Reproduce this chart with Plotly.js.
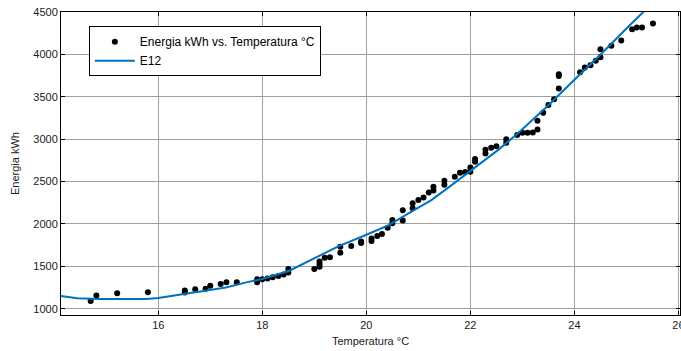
<!DOCTYPE html>
<html>
<head>
<meta charset="utf-8">
<script src="https://cdn.plot.ly/plotly-3.0.1.min.js"></script>
<style>
  html, body { margin: 0; padding: 0; background: #fff; }
  #chart { width: 681px; height: 351px; }
</style>
</head>
<body>
<div id="chart"></div>
<script>
// Measured daily energy use against mean temperature
const temperatura = [
  14.70, 14.81, 15.21, 15.80, 16.51, 16.51, 16.71, 16.91, 17.00, 17.20,
  17.31, 17.51, 17.90, 17.90, 18.00, 18.10, 18.20, 18.31, 18.41, 18.50,
  18.50, 19.00, 19.10, 19.10, 19.10, 19.20, 19.30, 19.50, 19.50, 19.71,
  19.90, 19.90, 20.10, 20.10, 20.21, 20.30, 20.41, 20.50, 20.50, 20.70,
  20.70, 20.89, 20.89, 21.00, 21.10, 21.20, 21.29, 21.29, 21.50, 21.50,
  21.70, 21.80, 21.90, 22.00, 22.00, 22.09, 22.09, 22.29, 22.29, 22.40,
  22.50, 22.69, 22.69, 22.90, 23.00, 23.10, 23.20, 23.29, 23.29, 23.40,
  23.50, 23.61, 23.70, 23.70, 23.70, 24.11, 24.20, 24.31, 24.41, 24.50,
  24.50, 24.71, 24.90, 25.11, 25.20, 25.30, 25.51
];
const energia = [
  1091, 1155, 1182, 1193, 1214, 1190, 1229, 1236, 1270, 1291,
  1313, 1313, 1311, 1347, 1347, 1358, 1372, 1386, 1403, 1426,
  1470, 1470, 1495, 1525, 1558, 1601, 1606, 1660, 1731, 1741,
  1775, 1792, 1800, 1828, 1859, 1881, 1955, 2007, 2046, 2042,
  2163, 2184, 2245, 2281, 2313, 2370, 2395, 2440, 2462, 2510,
  2556, 2603, 2613, 2615, 2665, 2735, 2767, 2832, 2875, 2900,
  2916, 2957, 3000, 3048, 3075, 3075, 3080, 3115, 3217, 3311,
  3402, 3472, 3598, 3744, 3767, 3788, 3846, 3873, 3924, 3965,
  4062, 4101, 4164, 4298, 4318, 4318, 4365
];

// Fitted curve E12
const curvaX = [
  14.13, 14.44, 14.89, 15.40, 15.78, 16.00, 16.16, 16.51, 16.92, 17.30,
  17.69, 18.00, 18.52, 18.90, 19.47, 19.98, 20.43, 20.81, 21.25, 21.60,
  22.02, 22.53, 22.91, 23.50, 24.00, 24.50, 25.00, 25.40
];
const curvaY = [
  1150, 1123, 1114, 1112, 1114, 1126, 1141, 1170, 1209, 1250,
  1311, 1350, 1448, 1566, 1739, 1867, 1987, 2125, 2282, 2440,
  2635, 2871, 3068, 3400, 3700, 3995, 4305, 4545
];

const xTicks = [16, 18, 20, 22, 24, 26];
const yTicks = [1000, 1500, 2000, 2500, 3000, 3500, 4000, 4500];

const fontFamily = 'Arial, "Liberation Sans", Helvetica, sans-serif';

const traces = [
  {
    x: temperatura, y: energia,
    type: 'scatter', mode: 'markers',
    name: 'Energia kWh vs. Temperatura °C',
    marker: { color: '#000000', size: 6 }
  },
  {
    x: curvaX, y: curvaY,
    type: 'scatter', mode: 'lines',
    name: 'E12',
    line: { color: '#0072BD', width: 2 }
  }
];

const axisCommon = {
  showline: true, linecolor: '#000000', linewidth: 1, mirror: 'ticks',
  ticks: 'inside', ticklen: 4, tickcolor: '#000000',
  showgrid: true, gridcolor: '#a0a0a0', gridwidth: 1,
  zeroline: false,
  ticklabeloverflow: 'allow',
  tickfont: { family: fontFamily, size: 11, color: '#1a1a1a' }
};

const layout = {
  width: 681, height: 351,
  margin: { l: 61, r: 1, t: 12, b: 36 },
  paper_bgcolor: '#ffffff', plot_bgcolor: '#ffffff',
  showlegend: true,
  font: { family: fontFamily, size: 11, color: '#1a1a1a' },
  xaxis: Object.assign({}, axisCommon, {
    range: [14.13, 26.03],
    tickmode: 'array', tickvals: xTicks, ticktext: xTicks.map(String),
    title: { text: 'Temperatura °C', font: { family: fontFamily, size: 11, color: '#1a1a1a' }, standoff: 7 },
    automargin: false
  }),
  yaxis: Object.assign({}, axisCommon, {
    range: [926, 4500],
    tickmode: 'array', tickvals: yTicks, ticktext: yTicks.map(String),
    title: { text: 'Energia kWh', font: { family: fontFamily, size: 11, color: '#1a1a1a' }, standoff: 11 },
    automargin: false
  }),
  legend: {
    x: 0.045, y: 0.953, xanchor: 'left', yanchor: 'top',
    bgcolor: '#ffffff', bordercolor: '#000000', borderwidth: 1,
    font: { family: fontFamily, size: 12, color: '#000000' },
    itemwidth: 40,
    tracegroupgap: 0
  }
};

Plotly.newPlot('chart', traces, layout, { staticPlot: true, displayModeBar: false });
</script>
</body>
</html>
